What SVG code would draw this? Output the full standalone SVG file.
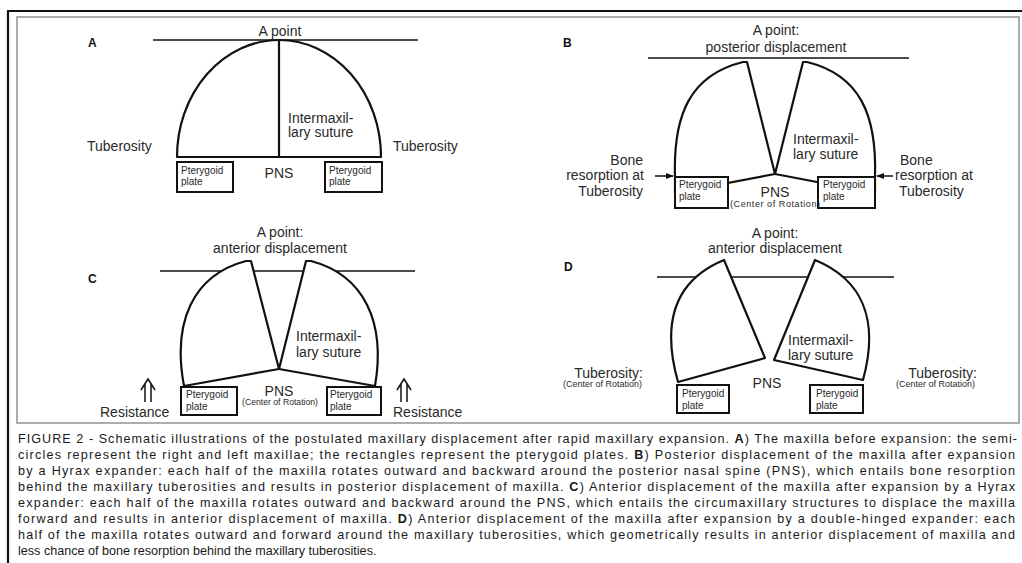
<svg xmlns="http://www.w3.org/2000/svg" width="1022" height="563" viewBox="0 0 1022 563">
<defs>
<style>
.frame{fill:none;stroke:#111;stroke-width:2.2}
.inner{fill:none;stroke:#8a8a8a;stroke-width:1.4}
.ref{stroke:#111;stroke-width:1.5;fill:none}
.piece{stroke:#111;stroke-width:2.2;fill:#fff;stroke-linejoin:round}
.sut{stroke:#111;stroke-width:2.2;fill:none}
.box{stroke:#111;stroke-width:2;fill:#fff}
.arr{stroke:#111;stroke-width:1.5;fill:none}
text{font-family:"Liberation Sans",Arial,sans-serif;fill:#2a2a2a}
.lbl{font-size:14px}
.sm{font-size:10px}
.xs{font-size:9px}
.pan{font-size:12px;font-weight:bold;fill:#111}
.cap{font-size:12.6px;fill:#1a1a1a}
.b{font-weight:bold}
.mid{text-anchor:middle}
.end{text-anchor:end}
</style>
<marker id="ah" markerWidth="8" markerHeight="8" refX="7" refY="4" orient="auto" markerUnits="userSpaceOnUse">
<path d="M0,1 L8,4 L0,7 Z" fill="#111"/>
</marker>
</defs>
<rect width="1022" height="563" fill="#fff"/>
<g id="frame">
<path class="frame" d="M7,11 H1022 M8,11 V563"/>
<rect class="inner" x="17" y="17" width="1002" height="406"/>
</g>

<g id="panelA">
<text class="pan" x="88" y="47">A</text>
<line class="ref" x1="153" y1="40" x2="418" y2="40"/>
<text class="lbl mid" x="280" y="36">A point</text>
<path class="piece" d="M177,157 A102,117 0 0 1 279,40 A102,117 0 0 1 381,157 Z"/>
<line class="sut" x1="279" y1="40" x2="279" y2="157"/>
<text class="lbl" x="288" y="123">Intermaxil-</text>
<text class="lbl" x="288" y="137">lary suture</text>
<text class="lbl" x="87" y="151">Tuberosity</text>
<text class="lbl" x="393" y="151">Tuberosity</text>
<rect class="box" x="177" y="162" width="56" height="30"/>
<rect class="box" x="325" y="162" width="57" height="30"/>
<text class="sm" x="181" y="174">Pterygoid</text>
<text class="sm" x="181" y="185">plate</text>
<text class="sm" x="329" y="174">Pterygoid</text>
<text class="sm" x="329" y="185">plate</text>
<text class="lbl mid" x="279" y="178">PNS</text>
</g>

<g id="panelB">
<text class="pan" x="563" y="47">B</text>
<text class="lbl mid" x="776" y="35">A point:</text>
<text class="lbl mid" x="776" y="52">posterior displacement</text>
<line class="ref" x1="648" y1="58" x2="909" y2="58"/>
<path class="piece" d="M743,62 C690,75 673,115 675,177 L675,193 L775,174 L747,62 Z"/>
<path class="piece" d="M807,62 C860,75 877,115 875,177 L875,193 L775,174 L803,62 Z"/>
<rect class="box" x="675" y="177" width="53" height="31"/>
<rect class="box" x="818" y="177" width="57" height="31"/>
<text class="sm" x="679" y="188">Pterygoid</text>
<text class="sm" x="679" y="200">plate</text>
<text class="sm" x="823" y="188">Pterygoid</text>
<text class="sm" x="823" y="200">plate</text>
<text class="lbl" x="793" y="144">Intermaxil-</text>
<text class="lbl" x="793" y="159">lary suture</text>
<text class="lbl end" x="643" y="165">Bone</text>
<text class="lbl end" x="644" y="180">resorption at</text>
<text class="lbl end" x="643" y="196">Tuberosity</text>
<text class="lbl" x="900" y="165">Bone</text>
<text class="lbl" x="895" y="180">resorption at</text>
<text class="lbl" x="899" y="196">Tuberosity</text>
<text class="lbl mid" x="775" y="197">PNS</text>
<text class="xs mid" x="775" y="206.5" textLength="90" lengthAdjust="spacing">(Center of Rotation)</text>
</g>

<g id="panelC">
<text class="pan" x="88" y="283">C</text>
<text class="lbl mid" x="280" y="237">A point:</text>
<text class="lbl mid" x="280" y="253">anterior displacement</text>
<line class="ref" x1="160" y1="271" x2="415" y2="271"/>
<path class="piece" d="M246,261 C193,275 172,322 184,386 L279,369 L251,261 Z"/>
<path class="piece" d="M311,261 C364,275 386,322 375,386 L279,369 L306,261 Z"/>
<rect class="box" x="181" y="387" width="56" height="28"/>
<rect class="box" x="327" y="387" width="54" height="28"/>
<text class="sm" x="186" y="398">Pterygoid</text>
<text class="sm" x="186" y="410">plate</text>
<text class="sm" x="330" y="398">Pterygoid</text>
<text class="sm" x="330" y="410">plate</text>
<text class="lbl" x="296" y="341">Intermaxil-</text>
<text class="lbl" x="296" y="357">lary suture</text>
<text class="lbl mid" x="279" y="396">PNS</text>
<text class="xs mid" x="280" y="405" textLength="76" lengthAdjust="spacingAndGlyphs">(Center of Rotation)</text>
<text class="lbl" x="100" y="417">Resistance</text>
<text class="lbl" x="393" y="417">Resistance</text>
<path class="arr" d="M141,390 L148,379 L155,390 M145,384 V402 M151,384 V402"/>
<path class="arr" d="M397,390 L404,379 L411,390 M401,384 V402 M407,384 V402"/>
</g>

<g id="panelD">
<text class="pan" x="564" y="271">D</text>
<text class="lbl mid" x="775" y="238">A point:</text>
<text class="lbl mid" x="775" y="253">anterior displacement</text>
<line class="ref" x1="657" y1="277" x2="894" y2="277"/>
<path class="piece" d="M724,260 C678,279 660,318 678,382 L765,358 Z"/>
<path class="piece" d="M815,260 C861,279 880,318 863,380 L774,360 Z"/>
<rect class="box" x="677" y="385" width="52" height="28"/>
<rect class="box" x="810" y="385" width="53" height="28"/>
<text class="sm" x="682" y="397">Pterygoid</text>
<text class="sm" x="682" y="409">plate</text>
<text class="sm" x="816" y="397">Pterygoid</text>
<text class="sm" x="816" y="409">plate</text>
<text class="lbl" x="788" y="345">Intermaxil-</text>
<text class="lbl" x="788" y="360">lary suture</text>
<text class="lbl mid" x="767" y="388">PNS</text>
<text class="lbl end" x="643" y="378">Tuberosity:</text>
<text class="xs end" x="642" y="387">(Center of Rotation)</text>
<text class="lbl end" x="977" y="378">Tuberosity:</text>
<text class="xs end" x="975" y="387">(Center of Rotation)</text>
</g>

<g id="connectors">
<line class="arr" x1="655" y1="176" x2="673" y2="176" marker-end="url(#ah)"/>
<line class="arr" x1="893" y1="176" x2="877" y2="176" marker-end="url(#ah)"/>
</g>

<g id="caption">
<text class="cap" x="18" y="443" textLength="999" lengthAdjust="spacing">FIGURE 2 - Schematic illustrations of the postulated maxillary displacement after rapid maxillary expansion. <tspan class="b">A</tspan>) The maxilla before expansion: the semi-</text>
<text class="cap" x="18" y="459" textLength="997" lengthAdjust="spacing">circles represent the right and left maxillae; the rectangles represent the pterygoid plates. <tspan class="b">B</tspan>) Posterior displacement of the maxilla after expansion</text>
<text class="cap" x="18" y="475" textLength="997" lengthAdjust="spacing">by a Hyrax expander: each half of the maxilla rotates outward and backward around the posterior nasal spine (PNS), which entails bone resorption</text>
<text class="cap" x="18" y="491" textLength="997" lengthAdjust="spacing">behind the maxillary tuberosities and results in posterior displacement of maxilla. <tspan class="b">C</tspan>) Anterior displacement of the maxilla after expansion by a Hyrax</text>
<text class="cap" x="18" y="507" textLength="997" lengthAdjust="spacing">expander: each half of the maxilla rotates outward and backward around the PNS, which entails the circumaxillary structures to displace the maxilla</text>
<text class="cap" x="18" y="523" textLength="997" lengthAdjust="spacing">forward and results in anterior displacement of maxilla. <tspan class="b">D</tspan>) Anterior displacement of the maxilla after expansion by a double-hinged expander: each</text>
<text class="cap" x="18" y="539" textLength="997" lengthAdjust="spacing">half of the maxilla rotates outward and forward around the maxillary tuberosities, which geometrically results in anterior displacement of maxilla and</text>
<text class="cap" x="18" y="555">less chance of bone resorption behind the maxillary tuberosities.</text>
</g>
</svg>
